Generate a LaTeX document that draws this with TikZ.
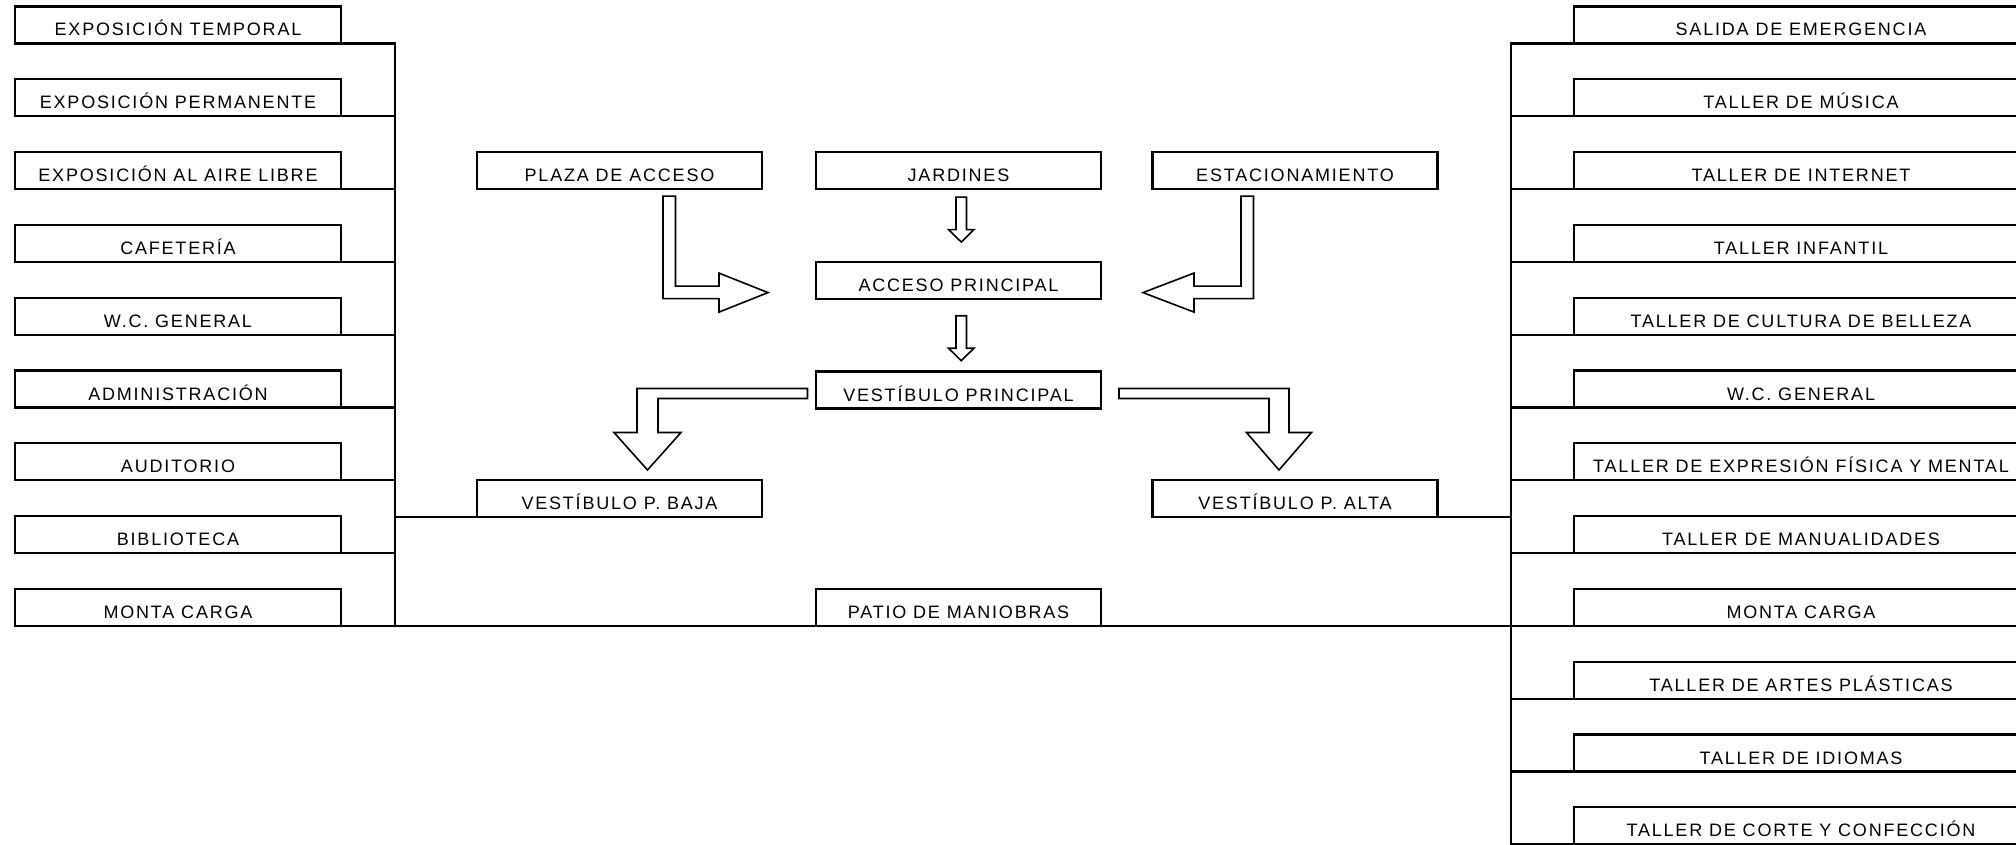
\documentclass[tikz,border=0pt]{standalone}
\usepackage{fontspec}
\setmainfont{Liberation Sans}[LetterSpace=10]
\usetikzlibrary{calc}
\begin{document}
\begin{tikzpicture}[x=1pt,y=-1pt,
  box/.style={draw, line width=2.2pt, rectangle, inner sep=0pt, outer sep=0pt,
    text height=29.5pt, text depth=7.5pt, font=\fontsize{18}{20}\selectfont},
  lbox/.style={box, minimum width=326pt},
  rbox/.style={box, minimum width=454pt},
  cbox/.style={box, minimum width=285pt},
  link/.style={line width=2.2pt},
  blockarrow/.style={draw, line width=1.6pt, line join=miter}
]
\useasboundingbox (0,0) rectangle (2016,845);
\clip (0,0) rectangle (2016,845);

% left column
\foreach \t [count=\i from 0] in {EXPOSICIÓN TEMPORAL, EXPOSICIÓN PERMANENTE,
  EXPOSICIÓN AL AIRE LIBRE, CAFETERÍA, W.C. GENERAL, ADMINISTRACIÓN,
  AUDITORIO, BIBLIOTECA, MONTA CARGA}
  \node[lbox] (L\i) at (178, {25+72.8*\i}) {\t};

% right column
\foreach \t [count=\j from 0] in {SALIDA DE EMERGENCIA, TALLER DE MÚSICA,
  TALLER DE INTERNET, TALLER INFANTIL, TALLER DE CULTURA DE BELLEZA,
  W.C. GENERAL, TALLER DE EXPRESIÓN FÍSICA Y MENTAL, TALLER DE MANUALIDADES,
  MONTA CARGA, TALLER DE ARTES PLÁSTICAS, TALLER DE IDIOMAS,
  TALLER DE CORTE Y CONFECCIÓN}
  \node[rbox] (R\j) at (1801, {25+72.8*\j}) {\t};

% centre
\node[cbox] (PLAZA) at (619.5,170.6) {PLAZA DE ACCESO};
\node[cbox] (JARD)  at (958.5,170.6) {JARDINES};
\node[cbox] (ESTAC) at (1295,170.6) {ESTACIONAMIENTO};
\node[cbox] (ACC)   at (958.5,280.2) {ACCESO PRINCIPAL};
\node[cbox] (VP)    at (958.5,390) {VESTÍBULO PRINCIPAL};
\node[cbox] (BAJA)  at (619.5,498.5) {VESTÍBULO P. BAJA};
\node[cbox] (ALTA)  at (1295,498.5) {VESTÍBULO P. ALTA};
\node[cbox] (PATIO) at (958.5,607.4) {PATIO DE MANIOBRAS};

% tree lines
\coordinate (lvtop) at (395,43.5);
\coordinate (lvbot) at (395,625.9);
\coordinate (rvtop) at (1511,43.5);
\coordinate (rvbot) at (1511,848);
\draw[link] (L0.south east) -- (lvtop) -- (lvbot);
\foreach \i in {1,...,8}
  \draw[link] (L\i.south east) -- (L\i.south east -| lvtop);
\draw[link] (R0.south west) -- (rvtop) -- (rvbot);
\foreach \j in {1,...,11}
  \draw[link] (R\j.south west) -- (R\j.south west -| rvtop);
\draw[link] (BAJA.south west) -- (BAJA.south west -| lvtop);
\draw[link] (ALTA.south east) -- (ALTA.south east -| rvtop);
\draw[link] (lvbot) -- (PATIO.south west);
\draw[link] (PATIO.south east) -- (PATIO.south east -| rvtop);

% hollow block arrows
\draw[blockarrow] ($(PLAZA.south)+(43.5,7)$) -- ++(12.5,0) -- ++(0,90)
  -- ++(43.5,0) -- ++(0,-13) -- ++(49,19.5) -- ++(-49,19.5) -- ++(0,-13.5)
  -- ++(-56,0) -- cycle;
\draw[blockarrow] ($(ESTAC.south)+(-41.5,7)$) -- ++(-12.5,0) -- ++(0,90)
  -- ++(-47,0) -- ++(0,-13) -- ++(-51,19.5) -- ++(51,19.5) -- ++(0,-13.5)
  -- ++(59.5,0) -- cycle;
\draw[blockarrow] ($(JARD.south)+(-2.5,8)$) -- ++(10.5,0) -- ++(0,32.5)
  -- ++(7.5,0) -- ++(-12.75,12.5) -- ++(-12.75,-12.5) -- ++(7.5,0) -- cycle;
\draw[blockarrow] ($(ACC.south)+(-2.5,17)$) -- ++(10.5,0) -- ++(0,32.5)
  -- ++(7.5,0) -- ++(-12.75,12.5) -- ++(-12.75,-12.5) -- ++(7.5,0) -- cycle;
\draw[blockarrow] ($(VP.west)+(-8.5,-1.5)$) -- ++(-170.5,0) -- ++(0,44)
  -- ++(-23,0) -- ++(33.5,37.5) -- ++(33.5,-37.5) -- ++(-23,0) -- ++(0,-34)
  -- ++(149.5,0) -- cycle;
\draw[blockarrow] ($(VP.east)+(18,-1.5)$) -- ++(170,0) -- ++(0,44)
  -- ++(22.5,0) -- ++(-32.5,37.5) -- ++(-32.5,-37.5) -- ++(22.5,0) -- ++(0,-34)
  -- ++(-150,0) -- cycle;
\end{tikzpicture}
\end{document}
